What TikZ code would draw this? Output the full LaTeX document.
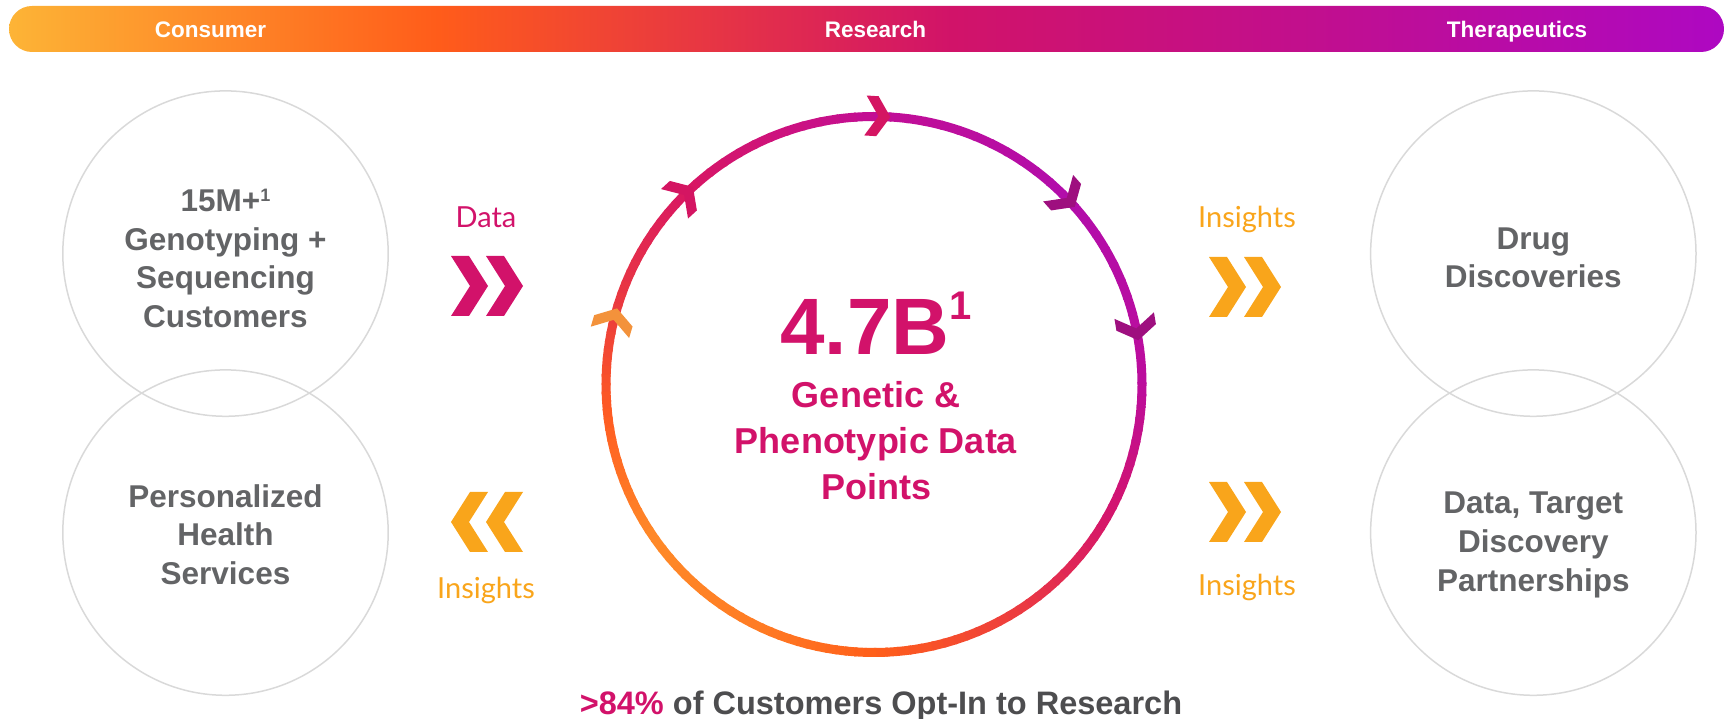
\documentclass[tikz,border=0pt]{standalone}
\usepackage{fontspec}
\setmainfont{Liberation Sans}
\newfontfamily\lightfont{Lato}
\usetikzlibrary{calc}
\definecolor{cgrey}{HTML}{636466}
\definecolor{cdark}{HTML}{4D4D4F}
\definecolor{cmag}{HTML}{D2126A}
\definecolor{corange}{HTML}{F9A51B}
\definecolor{clight}{HTML}{D9D9D9}
\definecolor{b0}{HTML}{FDB436}
\definecolor{b1}{HTML}{FF5C1A}
\definecolor{b2}{HTML}{D11369}
\definecolor{b3}{HTML}{C20F8C}
\definecolor{b4}{HTML}{AE08C2}
\definecolor{r0}{HTML}{FF5F1A}
\definecolor{r1}{HTML}{EE3F3C}
\definecolor{r2}{HTML}{D5166A}
\definecolor{r3}{HTML}{BC0D9C}
\definecolor{r4}{HTML}{B20DAB}
\definecolor{r5}{HTML}{C20E95}
\definecolor{r6}{HTML}{D91762}
\definecolor{r7}{HTML}{EC3D3D}
\definecolor{r8}{HTML}{FF5C22}
\definecolor{r9}{HTML}{FF8A28}
\definecolor{r10}{HTML}{FF7B24}
\definecolor{chorange}{HTML}{F3923B}
\definecolor{chred}{HTML}{D41562}
\definecolor{chpurple}{HTML}{9E0F7F}
\pgfdeclarehorizontalshading{bannershade}{100bp}{color(0bp)=(b0); color(25bp)=(b0); color(37.5bp)=(b1); color(52.5bp)=(b2); color(62.5bp)=(b3); color(75bp)=(b4); color(100bp)=(b4)}
\tikzset{
  bannertxt/.style={text=white, font=\bfseries\fontsize{22.5}{24}\selectfont, inner sep=0pt},
  greycirc/.style={circle, draw=clight, line width=1.5pt, minimum size=325.4pt, inner sep=0pt},
  circtxt/.style={text=cgrey, align=center, font=\bfseries\fontsize{31.5}{38.6}\selectfont, inner sep=0pt},
  datatxt/.style={text=cmag, font=\lightfont\fontsize{29}{30}\selectfont, inner sep=0pt},
  instxt/.style={text=corange, font=\lightfont\fontsize{29}{30}\selectfont, inner sep=0pt},
  bigchev/.pic={\fill (0,0) -- (-19,30) -- (-37,30) -- (-18,0) -- (-37,-30) -- (-19,-30) -- cycle;},
  smallchev/.pic={\fill (0,0) -- (-13,20) -- (-25,20) -- (-12,0) -- (-25,-20) -- (-13,-20) -- cycle;}
}
\begin{document}
\begin{tikzpicture}[x=1pt,y=1pt]
\useasboundingbox (0,0) rectangle (1729,719);
% banner
\shade[shading=bannershade, rounded corners=23pt] (9,667) rectangle (1724,713);
\node[bannertxt, anchor=base] (consumer) at (210.5,681.5) {Consumer};
\node[bannertxt, anchor=base] (research) at (875.5,681.5) {Research};
\node[bannertxt, anchor=base] (thera) at (1517,681.5) {Therapeutics};
% grey circles
\node[greycirc] (c1) at (225.5,465.4) {};
\node[greycirc] (c2) at (225.5,186.4) {};
\node[greycirc] (c3) at (1533.3,465.4) {};
\node[greycirc] (c4) at (1533.3,186.4) {};
\node[circtxt] (t1) at (225.5,460.5) {15M+{\fontsize{18}{18}\selectfont\raisebox{10pt}{1}}\\Genotyping +\\Sequencing\\Customers};
\node[circtxt] (t2) at (225.5,184.5) {Personalized\\Health\\Services};
\node[circtxt] (t3) at (1533.3,461) {Drug\\Discoveries};
\node[circtxt] (t4) at (1533.3,174) {Data, Target\\Discovery\\Partnerships};
% ring
\coordinate (ringc) at (874,334.5);
\foreach \aa/\ab/\ca/\cb in {-90/-60/r0/r1, -60/-30/r1/r2, -30/0/r2/r3, 0/45/r3/r4, 45/90/r4/r5, 90/135/r5/r6, 135/165/r6/r7, 165/187/r7/r8, 187/215/r8/r9, 215/245/r9/r10, 245/270/r10/r0}{
  \foreach \k in {0,...,11}{
    \pgfmathtruncatemacro\p{100-(\k+0.5)*100/12}
    \pgfmathsetmacro\s{\aa+(\ab-\aa)*\k/12}
    \pgfmathsetmacro\e{\aa+(\ab-\aa)*(\k+1)/12+0.5}
    \draw[line width=9pt, draw=\ca!\p!\cb] ($(ringc)+(\s:268)$) arc[start angle=\s, end angle=\e, radius=268pt];
  }
}
\foreach \ang/\col in {163.5/chorange, 132.5/chred, 86.5/chred, 41.5/chpurple, 9.5/chpurple}{
  \pic[color=\col, rotate=\ang-90] at ($(ringc)+(\ang:268)$) {smallchev};
}
% center text
\node[text=cmag, font=\bfseries\fontsize{80}{80}\selectfont, anchor=base, inner sep=0pt] (big) at (876,364) {4.7B\raisebox{35pt}{\fontsize{40}{40}\selectfont 1}};
\node[text=cmag, align=center, font=\bfseries\fontsize{36}{46}\selectfont, inner sep=0pt] (gp) at (876,278) {Genetic \&\\Phenotypic Data\\Points};
% side labels and chevrons
\node[datatxt] (data) at (486,502) {Data};
\pic[color=cmag] at (488,433) {bigchev};
\pic[color=cmag] at (523,433) {bigchev};
\node[instxt] (ins1) at (486,129) {Insights};
\pic[color=corange, rotate=180] at (451,197) {bigchev};
\pic[color=corange, rotate=180] at (486,197) {bigchev};
\node[instxt] (ins2) at (1247,500) {Insights};
\pic[color=corange] at (1246,432) {bigchev};
\pic[color=corange] at (1281,432) {bigchev};
\node[instxt] (ins3) at (1247,131.3) {Insights};
\pic[color=corange] at (1246,207) {bigchev};
\pic[color=corange] at (1281,207) {bigchev};
% bottom text
\node[text=cdark, font=\bfseries\fontsize{32.5}{34}\selectfont, inner sep=0pt] (optin) at (881,13) {\textcolor{cmag}{>84\%} of Customers Opt-In to Research};
\end{tikzpicture}
\end{document}
